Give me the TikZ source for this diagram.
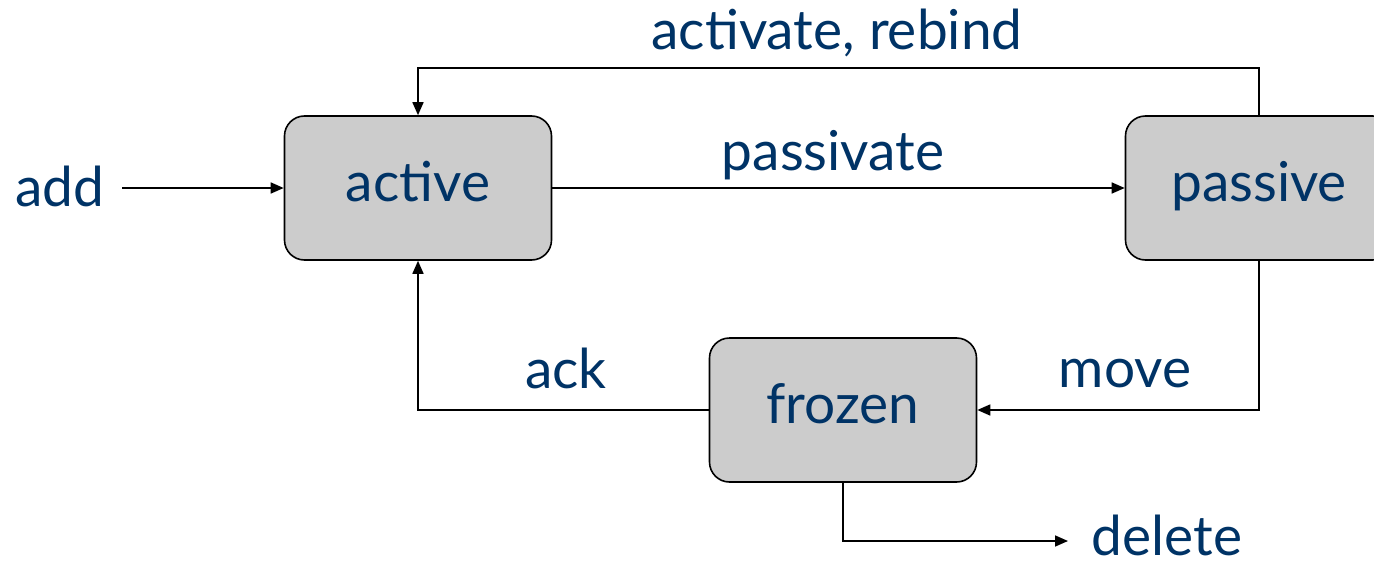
\documentclass[tikz,border=0pt]{standalone}
\usepackage{fontspec}
\setmainfont{Lato}
\usetikzlibrary{arrows.meta}
\definecolor{labelblue}{HTML}{003366}
\definecolor{statefill}{HTML}{CCCCCC}
\tikzset{
  state/.style={draw=black, line width=1.6pt, fill=statefill, rounded corners=20pt,
    minimum width=267pt, minimum height=144pt, inner sep=0pt,
    text height=40pt, text depth=14pt,
    font=\fontsize{55}{60}\selectfont, text=labelblue},
  lbl/.style={font=\fontsize{55}{60}\selectfont, text=labelblue, inner sep=0pt, anchor=base},
  conn/.style={line width=1.6pt, -{Triangle[length=13pt,width=11pt]}},
}
\begin{document}
\begin{tikzpicture}[x=1pt,y=-1pt]
  \useasboundingbox (0,0) rectangle (1374,562);
  \clip (0,0) rectangle (1374,562);
  % states
  \node[state] (active)  at (418,188) {active};
  \node[state] (passive) at (1259,188) {passive};
  \node[state] (frozen)  at (843,410) {frozen};
  % free end points
  \node[lbl] (add) at (60,206) {add};
  \coordinate (addend) at (122,188);
  \node[lbl] (delete) at (1167,555) {delete};
  \coordinate (delend) at (1068,541);
  \coordinate (topright) at (1259,68);
  % transition labels
  \node[lbl] (lrebind)    at (837,49)  {activate, rebind};
  \node[lbl] (lpassivate) at (833,170) {passivate};
  \node[lbl] (lmove)      at (1125,387) {move};
  \node[lbl] (lack)       at (566,388) {ack};
  % transitions
  \draw[conn] (addend) -- (active.west);
  \draw[conn] (active.east) -- (passive.west);
  \draw[conn] (passive.north) -- (topright) -| (active.north);
  \draw[conn] (passive.south) |- (frozen.east);
  \draw[conn] (frozen.west) -| (active.south);
  \draw[conn] (frozen.south) |- (delend);
\end{tikzpicture}
\end{document}
